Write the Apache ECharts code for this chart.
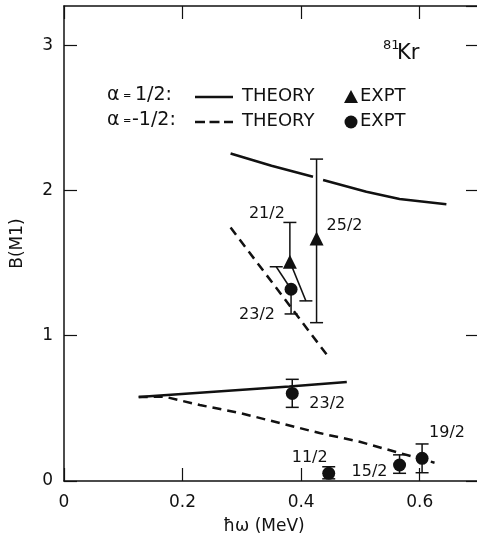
<!DOCTYPE html>
<html>
<head>
<meta charset="utf-8">
<script src="https://cdn.jsdelivr.net/npm/echarts@6/dist/echarts.min.js"></script>
<style>
html, body { margin: 0; padding: 0; background: #fff; }
#chart { width: 477px; height: 539px; }
</style>
</head>
<body>
<div id="chart"></div>
<script>
// alpha = +1/2 theory (solid), upper branch is broken where it meets the 25/2 error bar
var theoryPlusUpperA = [[0.281, 2.255], [0.35, 2.17], [0.42, 2.094]];
var theoryPlusUpperB = [[0.437, 2.072], [0.51, 1.991], [0.566, 1.941], [0.645, 1.906]];
var theoryPlusLower = [[0.126, 0.578], [0.38, 0.65], [0.477, 0.681]];
// alpha = -1/2 theory (dashed)
var theoryMinusUpper = [[0.281, 1.745], [0.445, 0.86]];
var theoryMinusLower = [[0.126, 0.578], [0.17, 0.58], [0.229, 0.523], [0.297, 0.468], [0.364, 0.399],
  [0.431, 0.33], [0.499, 0.27], [0.566, 0.193], [0.625, 0.126]];

// experiment, alpha = +1/2 (triangles)
var exptPlus = [[0.381, 1.51], [0.426, 1.67]];
var exptPlusSpin = ['21/2', '25/2'];
var exptPlusLow = [1.24, 1.09];
var exptPlusHigh = [1.78, 2.216];
var exptPlusLowX = [0.408, 0.426];   // x where the lower cap sits (21/2 bar is drawn slanted)
var exptPlusHighX = [0.381, 0.426];

// experiment, alpha = -1/2 (circles)
var exptMinus = [[0.383, 1.32], [0.385, 0.603], [0.4465, 0.053], [0.566, 0.11], [0.604, 0.156]];
var exptMinusSpin = ['23/2', '23/2', '11/2', '15/2', '19/2'];
var exptMinusLow = [1.15, 0.507, 0.015, 0.053, 0.057];
var exptMinusHigh = [1.475, 0.70, 0.098, 0.18, 0.255];
var exptMinusLowX = [0.383, 0.385, 0.4465, 0.566, 0.604];
var exptMinusHighX = [0.358, 0.385, 0.4465, 0.566, 0.604];

// label offsets (px) for the spin labels
var plusLabelOff = [[-23, -48], [28, -13]];
var minusLabelOff = [[-34, 26], [35, 10], [-19, -15], [-30, 7], [25, -25]];

var xTicks = [0, 0.2, 0.4, 0.6];
var yTicks = [0, 1, 2, 3];

var FONT = 'DejaVu Sans';
var INK = '#111';

function errRows(pts, lo, hi, loX, hiX) {
  return pts.map(function (p, i) { return [p[0], p[1], lo[i], hi[i], loX[i], hiX[i]]; });
}

function renderErr(params, api) {
  var p = api.coord([api.value(0), api.value(1)]);
  var h = api.coord([api.value(5), api.value(3)]);
  var l = api.coord([api.value(4), api.value(2)]);
  var w = 6.5;
  var st = { stroke: INK, lineWidth: 1.5 };
  return {
    type: 'group',
    children: [
      { type: 'line', shape: { x1: p[0], y1: p[1], x2: h[0], y2: h[1] }, style: st },
      { type: 'line', shape: { x1: h[0] - w, y1: h[1], x2: h[0] + w, y2: h[1] }, style: st },
      { type: 'line', shape: { x1: p[0], y1: p[1], x2: l[0], y2: l[1] }, style: st },
      { type: 'line', shape: { x1: l[0] - w, y1: l[1], x2: l[0] + w, y2: l[1] }, style: st }
    ]
  };
}

function scatterData(pts, spins, offs) {
  return pts.map(function (p, i) {
    return {
      value: p,
      label: { show: true, formatter: spins[i], position: 'inside', offset: offs[i] }
    };
  });
}

function theoryLine(data, dashed) {
  return {
    type: 'line', data: data, showSymbol: false, symbol: 'none', silent: true,
    lineStyle: { color: INK, width: 2.5, type: dashed ? [9, 6] : 'solid' },
    z: 3
  };
}

var chart = echarts.init(document.getElementById('chart'));

function frameAxis(extra) {
  return Object.assign({
    type: 'value',
    axisLine: { show: true, onZero: false, lineStyle: { color: INK, width: 1.5 } },
    axisTick: { show: true, inside: true, length: 13, lineStyle: { color: INK, width: 1.2 } },
    splitLine: { show: false }
  }, extra);
}

chart.setOption({
  animation: false,
  backgroundColor: '#fff',
  textStyle: { fontFamily: FONT, color: INK },
  grid: { left: 64, top: 6, width: 415, height: 475, containLabel: false, outerBoundsMode: 'none' },
  xAxis: [
    frameAxis({
      min: 0, max: 0.7, interval: 0.2, position: 'bottom',
      name: 'ħω (MeV)', nameLocation: 'middle', nameGap: 37,
      nameTextStyle: { fontFamily: FONT, fontSize: 17, color: INK, padding: [0, 15, 0, 0] },
      axisLabel: {
        fontFamily: FONT, fontSize: 17, color: INK, margin: 13, showMaxLabel: false,
        formatter: function (v) { var r = Math.round(v * 10) / 10; return xTicks.indexOf(r) >= 0 ? String(r) : ''; }
      }
    }),
    frameAxis({ min: 0, max: 0.7, interval: 0.2, position: 'top', axisLabel: { show: false } })
  ],
  yAxis: [
    frameAxis({
      min: 0, max: 3.27, interval: 1, position: 'left',
      name: 'B(M1)', nameLocation: 'middle', nameGap: 38, nameRotate: 90,
      nameTextStyle: { fontFamily: FONT, fontSize: 17, color: INK },
      axisLabel: {
        fontFamily: FONT, fontSize: 17, color: INK, margin: 11, showMaxLabel: false,
        formatter: function (v) { return yTicks.indexOf(v) >= 0 ? String(v) : ''; }
      }
    }),
    frameAxis({ min: 0, max: 3.27, interval: 1, position: 'right', axisLabel: { show: false } })
  ],
  series: [
    theoryLine(theoryPlusUpperA, false),
    theoryLine(theoryPlusUpperB, false),
    theoryLine(theoryPlusLower, false),
    theoryLine(theoryMinusUpper, true),
    theoryLine(theoryMinusLower, true),
    {
      type: 'custom', renderItem: renderErr, silent: true, z: 4,
      encode: { x: [0, 4, 5], y: [1, 2, 3] },
      data: errRows(exptPlus, exptPlusLow, exptPlusHigh, exptPlusLowX, exptPlusHighX)
    },
    {
      type: 'custom', renderItem: renderErr, silent: true, z: 4,
      encode: { x: [0, 4, 5], y: [1, 2, 3] },
      data: errRows(exptMinus, exptMinusLow, exptMinusHigh, exptMinusLowX, exptMinusHighX)
    },
    {
      type: 'scatter', symbol: 'triangle', symbolSize: 14, z: 5,
      itemStyle: { color: INK, opacity: 1 },
      label: { color: INK, fontFamily: FONT, fontSize: 16 },
      data: scatterData(exptPlus, exptPlusSpin, plusLabelOff)
    },
    {
      type: 'scatter', symbol: 'circle', symbolSize: 13, z: 5,
      itemStyle: { color: INK, opacity: 1 },
      label: { color: INK, fontFamily: FONT, fontSize: 16 },
      data: scatterData(exptMinus, exptMinusSpin, minusLabelOff)
    }
  ],
  graphic: [
    // nucleus tag
    { type: 'text', left: 383, top: 39, style: { text: '81', fontFamily: FONT, fontSize: 13, fill: INK } },
    { type: 'text', left: 397, top: 43, style: { text: 'Kr', fontFamily: FONT, fontSize: 21, fill: INK } },
    // legend row 1
    { type: 'text', left: 107, top: 86, style: { text: 'α', fontFamily: FONT, fontSize: 19, fill: INK } },
    { type: 'text', left: 123, top: 91, style: { text: '=', fontFamily: FONT, fontSize: 10, fill: INK } },
    { type: 'text', left: 135, top: 86, style: { text: '1/2:', fontFamily: FONT, fontSize: 19, fill: INK } },
    { type: 'line', shape: { x1: 195, y1: 97, x2: 233, y2: 97 }, style: { stroke: INK, lineWidth: 2.5 } },
    { type: 'text', left: 242, top: 87, style: { text: 'THEORY', fontFamily: FONT, fontSize: 18, fill: INK } },
    { type: 'polygon', shape: { points: [[351, 90], [358, 103], [344, 103]] }, style: { fill: INK } },
    { type: 'text', left: 360, top: 87, style: { text: 'EXPT', fontFamily: FONT, fontSize: 18, fill: INK } },
    // legend row 2
    { type: 'text', left: 107, top: 111, style: { text: 'α', fontFamily: FONT, fontSize: 19, fill: INK } },
    { type: 'text', left: 123, top: 116, style: { text: '=', fontFamily: FONT, fontSize: 10, fill: INK } },
    { type: 'text', left: 132, top: 111, style: { text: '-1/2:', fontFamily: FONT, fontSize: 19, fill: INK } },
    { type: 'line', shape: { x1: 195, y1: 122, x2: 233, y2: 122 }, style: { stroke: INK, lineWidth: 2.5, lineDash: [10, 4.5] } },
    { type: 'text', left: 242, top: 112, style: { text: 'THEORY', fontFamily: FONT, fontSize: 18, fill: INK } },
    { type: 'circle', shape: { cx: 351, cy: 122, r: 6.5 }, style: { fill: INK } },
    { type: 'text', left: 360, top: 112, style: { text: 'EXPT', fontFamily: FONT, fontSize: 18, fill: INK } }
  ]
});
</script>
</body>
</html>
